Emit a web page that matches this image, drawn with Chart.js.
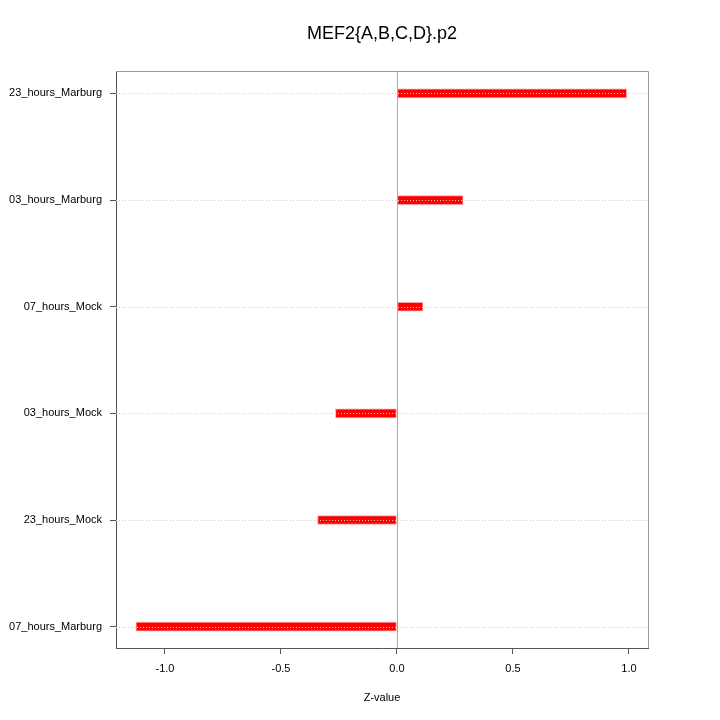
<!DOCTYPE html>
<html>
<head>
<meta charset="utf-8">
<script src="https://cdn.jsdelivr.net/npm/chart.js@4"></script>
<style>
  html, body { margin: 0; padding: 0; background: #fff; }
  #wrap { width: 720px; height: 720px; }
</style>
</head>
<body>
<div id="wrap"><canvas id="chart" width="720" height="720"></canvas></div>
<script>
// categories listed top to bottom
const categories = ['23_hours_Marburg', '03_hours_Marburg', '07_hours_Mock', '03_hours_Mock', '23_hours_Mock', '07_hours_Marburg'];
const zValues = [0.99, 0.285, 0.112, -0.265, -0.342, -1.125];
const xTicks = [-1.0, -0.5, 0.0, 0.5, 1.0];
const chartTitle = 'MEF2{A,B,C,D}.p2';

const FONT = 'Liberation Sans, Arial, sans-serif';

const overlay = {
  id: 'overlay',
  afterDatasetsDraw(chart) {
    const { ctx, chartArea: a, scales } = chart;
    ctx.save();
    // dotted reference lines over the bars
    ctx.strokeStyle = '#cccccc';
    ctx.lineWidth = 1;
    ctx.setLineDash([1, 2]);
    categories.forEach((c, i) => {
      const y = Math.round(scales.y.getPixelForValue(i)) + 0.5;
      ctx.beginPath();
      ctx.moveTo(a.left, y);
      ctx.lineTo(a.right, y);
      ctx.stroke();
    });
    ctx.setLineDash([]);
    // zero line
    const x0 = Math.round(scales.x.getPixelForValue(0)) + 0.5;
    ctx.strokeStyle = '#5fe35f';
    ctx.beginPath();
    ctx.moveTo(x0, a.top);
    ctx.lineTo(x0, a.bottom);
    ctx.stroke();
    // frame: top and right lighter
    ctx.strokeStyle = '#999999';
    ctx.beginPath();
    ctx.moveTo(a.left, a.top + 0.5);
    ctx.lineTo(a.right + 0.5, a.top + 0.5);
    ctx.lineTo(a.right + 0.5, a.bottom);
    ctx.stroke();
    // title
    ctx.fillStyle = '#000';
    ctx.font = '18px ' + FONT;
    ctx.textAlign = 'center';
    ctx.textBaseline = 'middle';
    ctx.fillText(chartTitle, (a.left + a.right) / 2, 34);
    ctx.restore();
  }
};

new Chart(document.getElementById('chart'), {
  type: 'bar',
  data: {
    datasets: [{
      data: zValues.map((v, i) => ({ x: v, y: i })),
      backgroundColor: '#ff0000',
      borderColor: '#ffa0a0',
      borderWidth: 1,
      borderSkipped: false,
      barThickness: 9
    }]
  },
  options: {
    indexAxis: 'y',
    responsive: false,
    animation: false,
    layout: { padding: { top: 71, right: 72, left: 0, bottom: 0 } },
    plugins: { legend: { display: false }, tooltip: { enabled: false } },
    scales: {
      x: {
        type: 'linear',
        min: -1.211,
        max: 1.082,
        afterBuildTicks: s => { s.ticks = xTicks.map(v => ({ value: v })); },
        afterFit: s => { s.height = 72; },
        ticks: {
          color: '#000',
          font: { family: FONT, size: 11 },
          padding: 8,
          maxRotation: 0,
          callback: v => v.toFixed(1)
        },
        grid: { drawOnChartArea: false, drawTicks: true, tickLength: 6, tickColor: '#555', color: '#555' },
        border: { display: true, color: '#555' },
        title: {
          display: true,
          text: 'Z-value',
          color: '#000',
          font: { family: FONT, size: 11 },
          padding: { top: 0, bottom: 15 }
        }
      },
      y: {
        type: 'linear',
        reverse: true,
        offset: false,
        min: -0.21,
        max: 5.2,
        afterBuildTicks: s => { s.ticks = categories.map((c, i) => ({ value: i })); },
        afterFit: s => { s.width = 116; },
        ticks: {
          color: '#000',
          font: { family: FONT, size: 11 },
          padding: 8,
          callback: v => categories[v]
        },
        grid: { offset: false, drawOnChartArea: false, drawTicks: true, tickLength: 6, tickColor: '#555', color: '#555' },
        border: { display: true, color: '#555' }
      }
    }
  },
  plugins: [overlay]
});
</script>
</body>
</html>
